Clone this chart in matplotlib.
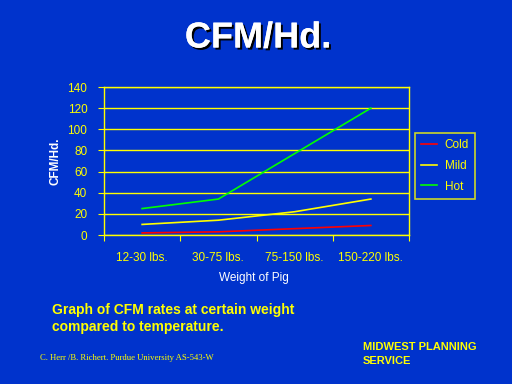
import matplotlib
matplotlib.use("Agg")
import matplotlib.pyplot as plt
import matplotlib.patheffects as pe

categories = ["12-30 lbs.", "30-75 lbs.", "75-150 lbs.", "150-220 lbs."]
cold = [2, 3, 6, 9]
mild = [10, 14, 22, 34]
hot = [25, 34, 77, 120]
yticks = [0, 20, 40, 60, 80, 100, 120, 140]

BG = "#0033CC"
YEL = "#FFFF00"

plt.rcParams['font.family'] = ['Liberation Sans', 'DejaVu Sans']

fig = plt.figure(figsize=(5.12, 3.84), dpi=100, facecolor=BG)
W, H = 512, 384
ax = fig.add_axes([104 / W, 1 - 235 / H, (409 - 104) / W, (235 - 87) / H])
ax.set_facecolor(BG)

x = [0, 1, 2, 3]
l1, = ax.plot(x, cold, color="#FF0000", lw=1.2, label="Cold")
l2, = ax.plot(x, mild, color=YEL, lw=1.2, label="Mild")
l3, = ax.plot(x, hot, color="#00FF00", lw=1.2, label="Hot")

ax.set_xlim(-0.5, 3.5)
ax.set_ylim(0, 140)
ax.set_yticks(yticks)
ax.set_yticklabels([str(v) for v in yticks], color=YEL, fontsize=8.5)
ax.set_xticks([-0.5, 0.5, 1.5, 2.5, 3.5])
ax.set_xticklabels([])
ax.set_xticks(x, minor=True)
ax.set_xticklabels(categories, minor=True, color=YEL, fontsize=8.5)
ax.tick_params(axis='x', which='minor', length=0, pad=12)
ax.tick_params(axis='x', which='major', length=4, color=YEL, direction='out')
ax.tick_params(axis='y', length=4, color=YEL, direction='out', pad=8)
ax.grid(axis='y', color=YEL, lw=1)
for s in ax.spines.values():
    s.set_color(YEL)
    s.set_linewidth(1)

ax.set_ylabel("CFM/Hd.", color="white", fontsize=8.5, fontweight='bold')
ax.yaxis.set_label_coords((56 - 104) / 305, 0.5)
ax.set_xlabel("Weight of Pig", color="white", fontsize=8.5)
ax.xaxis.set_label_coords(0.49, (235 - 278) / 148)
ax.xaxis.label.set_va('center')
ax.yaxis.label.set_va('center')

leg = fig.legend(handles=[l1, l2, l3], loc='upper left',
                 bbox_to_anchor=(415 / W, 1 - 133 / H), frameon=True,
                 fontsize=8.5, handlelength=1.4, labelspacing=0.75,
                 borderpad=0.5, handletextpad=0.6, borderaxespad=0)
leg.get_frame().set_facecolor(BG)
leg.get_frame().set_edgecolor(YEL)
leg.get_frame().set_linewidth(1.2)
leg.get_frame().set_boxstyle('square', pad=0)
for t in leg.get_texts():
    t.set_color(YEL)

fig.text(258 / W, 1 - 38 / H, "CFM/Hd.", color="white", fontsize=26,
         fontweight='bold', ha='center', va='center',
         path_effects=[pe.withSimplePatchShadow(offset=(1.5, -1.5), shadow_rgbFace='black', alpha=1), pe.Normal()])

fig.text(52 / W, 1 - 310 / H, "Graph of CFM rates at certain weight",
         color=YEL, fontsize=10, fontweight='bold', ha='left', va='center')
fig.text(52 / W, 1 - 327 / H, "compared to temperature.",
         color=YEL, fontsize=10, fontweight='bold', ha='left', va='center')
fig.text(40 / W, 1 - 358 / H, "C. Herr /B. Richert. Purdue University AS-543-W",
         color=YEL, fontsize=6.2, family=['Liberation Serif', 'DejaVu Serif'],
         ha='left', va='center')
fig.text(363 / W, 1 - 347 / H, "MIDWEST PLANNING", color=YEL, fontsize=8,
         fontweight='bold', ha='left', va='center')
fig.text(363 / W, 1 - 361 / H, "SERVICE", color=YEL, fontsize=8,
         fontweight='bold', ha='left', va='center')

fig.savefig("out.png", dpi=100, facecolor=BG)
